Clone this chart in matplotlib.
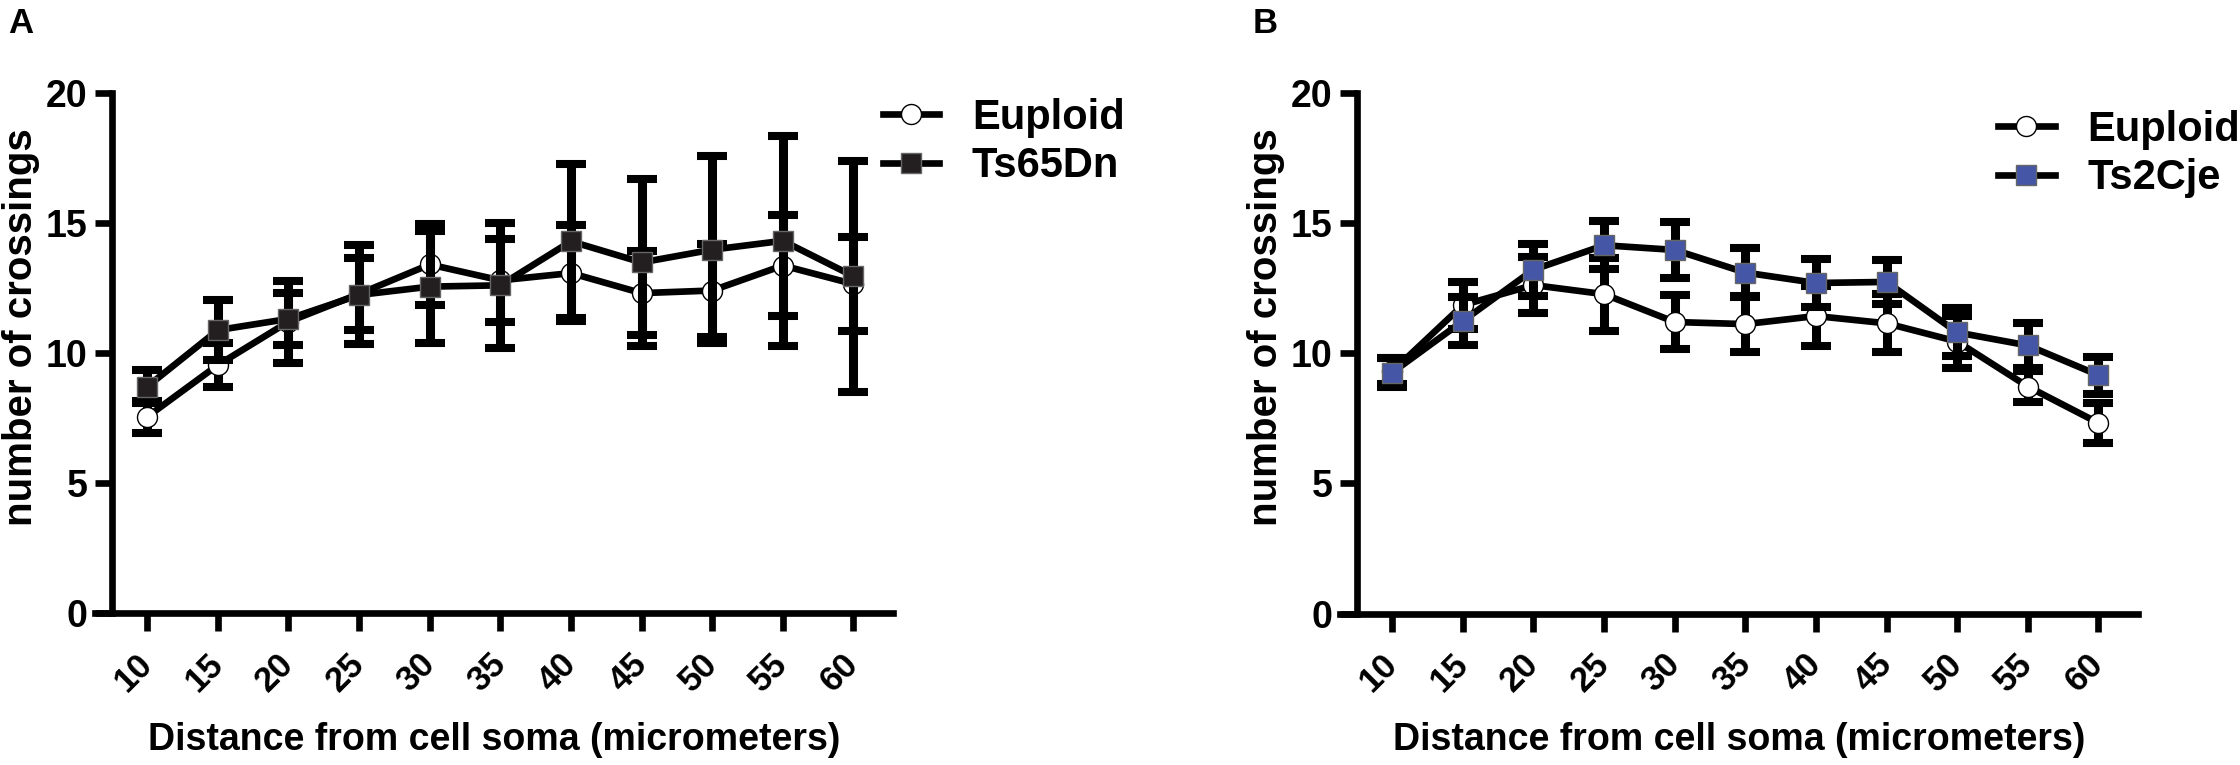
import numpy as np
import matplotlib
matplotlib.use('Agg')
import matplotlib.pyplot as plt

plt.rcParams['font.family'] = ['Liberation Sans', 'DejaVu Sans']
plt.rcParams['font.weight'] = 'bold'
plt.rcParams['axes.labelweight'] = 'bold'

# distance from soma (micrometers)
dist = [10, 15, 20, 25, 30, 35, 40, 45, 50, 55, 60]
xtick_labels = [str(d) for d in dist]
yticks = [0, 5, 10, 15, 20]

# panel A
eu_a = [7.55, 9.54, 11.2, 12.27, 13.4, 12.79, 13.07, 12.3, 12.4, 13.36, 12.65]
eu_a_sem = [0.62, 0.83, 1.58, 1.38, 1.55, 1.6, 1.85, 1.6, 1.8, 1.95, 1.82]
ts65 = [8.71, 10.88, 11.31, 12.23, 12.55, 12.6, 14.29, 13.48, 13.97, 14.31, 12.95]
ts65_sem = [0.65, 1.15, 1.0, 1.9, 2.15, 2.4, 2.96, 3.2, 3.58, 4.03, 4.44]

# panel B
eu_b = [9.3, 11.85, 12.62, 12.27, 11.2, 11.12, 11.43, 11.15, 10.45, 8.72, 7.32]
eu_b_sem = [0.5, 0.9, 1.09, 1.4, 1.05, 1.08, 1.15, 1.12, 1.0, 0.6, 0.75]
ts2 = [9.26, 11.24, 13.21, 14.15, 13.97, 13.1, 12.7, 12.74, 10.8, 10.3, 9.16]
ts2_sem = [0.55, 0.91, 1.0, 0.93, 1.08, 0.93, 0.92, 0.84, 0.92, 0.85, 0.71]

W, H = 2240, 765
fig = plt.figure(figsize=(W / 100, H / 100), dpi=100)


def px_axes(left, top, right, bottom):
    return fig.add_axes([left / W, 1 - bottom / H, (right - left) / W, (bottom - top) / H])


def panel(ax, eu, eu_sem, tg, tg_sem, tg_name, tg_color, leg_x, leg_top):
    ax.errorbar(dist, eu, yerr=eu_sem, fmt='none', ecolor='black', elinewidth=6.5,
                capsize=10.8, capthick=5.8, zorder=2, clip_on=False)
    l1, = ax.plot(dist, eu, '-', color='black', lw=4.8, marker='o', ms=14.4,
                  mfc='white', mec='black', mew=1, zorder=3, clip_on=False)
    ax.errorbar(dist, tg, yerr=tg_sem, fmt='none', ecolor='black', elinewidth=6.5,
                capsize=10.8, capthick=5.8, zorder=4, clip_on=False)
    l2, = ax.plot(dist, tg, '-', color='black', lw=4.8, marker='s', ms=14.4,
                  mfc=tg_color, mec='#666666', mew=1, zorder=5, clip_on=False)

    ax.set_xlim(6.3, 62.8)
    ax.set_ylim(0, 20)
    for s in ['top', 'right']:
        ax.spines[s].set_visible(False)
    ax.spines['left'].set_position(('data', 7.5))
    ax.spines['left'].set_bounds(0, 20)
    for s in ['left', 'bottom']:
        ax.spines[s].set_linewidth(4.8)
    ax.set_xticks(dist)
    ax.set_xticklabels(xtick_labels, rotation=45, ha='right', va='center',
                       rotation_mode='anchor')
    ax.set_yticks(yticks)
    ax.tick_params(axis='x', length=12.6, width=4.8, labelsize=25, pad=20)
    ax.tick_params(axis='y', length=12.6, width=4.8, labelsize=27, pad=5)

    ax.set_xlabel('Distance from cell soma (micrometers)', fontsize=27,
                  fontweight='bold', va='center')
    ax.xaxis.set_label_coords(0.5, -0.243)
    ax.set_ylabel('number of crossings', fontsize=29, fontweight='bold')
    ax.yaxis.set_label_coords(-0.069, 0.55)

    fig.legend([l1, l2], ['Euploid', tg_name], loc='upper left',
               bbox_to_anchor=(leg_x / W, 1 - leg_top / H), frameon=False,
               fontsize=30, handlelength=1.36, handletextpad=0.78,
               labelspacing=0.2, borderpad=0, borderaxespad=0)


ax1 = px_axes(95, 92.7, 893, 613.3)
panel(ax1, eu_a, eu_a_sem, ts65, ts65_sem, 'Ts65Dn', '#231f20', 882.7, 98)

ax2 = px_axes(1340, 93, 2138, 613.5)
panel(ax2, eu_b, eu_b_sem, ts2, ts2_sem, 'Ts2Cje', '#4656a6', 1998, 110)

fig.text(8 / W, 1 - 7 / H, 'A', fontsize=25, va='top', ha='left')
fig.text(1253 / W, 1 - 7 / H, 'B', fontsize=25, va='top', ha='left')

fig.savefig('out.png', dpi=100)
